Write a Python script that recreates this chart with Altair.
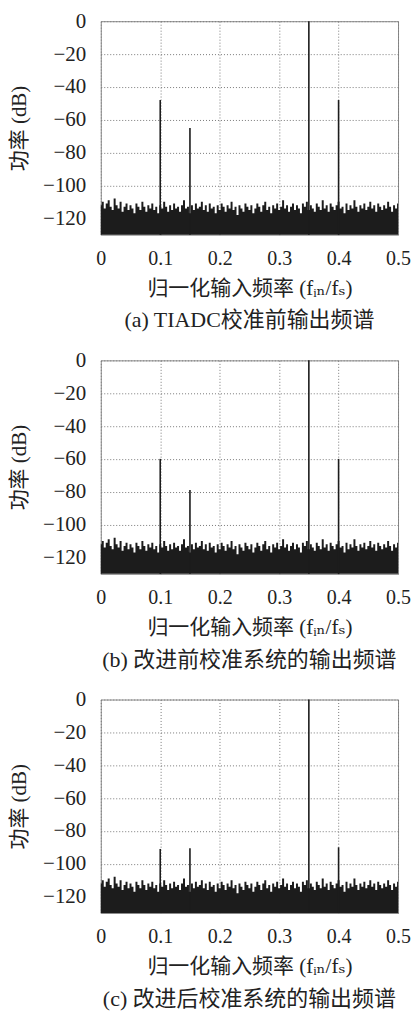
import altair as alt
import pandas as pd

# ---- data -------------------------------------------------------------
x_ticks = [0, 0.1, 0.2, 0.3, 0.4, 0.5]
y_ticks = [0, -20, -40, -60, -80, -100, -120]
floor_db = -130

# noise floor (top outline of the spectrum), shared by the three panels
noise_db = [
    -112, -110, -114, -111, -109, -113, -115, -108, -112, -114,
    -110, -116, -113, -111, -115, -112, -114, -117, -111, -113,
    -115, -110, -113, -116, -112, -114, -111, -115, -113, -117,
    -112, -114, -110, -113, -116, -112, -115, -111, -114, -113,
    -116, -112, -109, -114, -113, -117, -112, -115, -111, -114,
    -113, -110, -115, -112, -116, -111, -114, -113, -117, -112,
    -115, -111, -113, -116, -112, -114, -110, -115, -113, -118,
    -112, -114, -116, -111, -113, -115, -112, -117, -114, -111,
    -113, -116, -112, -110, -115, -113, -117, -112, -114, -111,
    -115, -113, -109, -114, -112, -116, -113, -111, -115, -112,
    -114, -117, -111, -113, -110, -115, -112, -114, -116, -111,
    -113, -115, -109, -114, -112, -116, -111, -113, -115, -112,
    -110, -114, -113, -117, -111, -115, -112, -114, -109, -113,
    -116, -112, -114, -111, -115, -113, -110, -114, -112, -116,
    -111, -113, -115, -112, -114, -110, -113, -116, -112, -114,
    -111,
]
noise_freq = [round(i * 0.5 / (len(noise_db) - 1), 5) for i in range(len(noise_db))]

spike_freq = [0.1, 0.15, 0.35, 0.4]
spike_a = [-48, -65, 0, -48]
spike_b = [-60, -79, 0, -60]
spike_c = [-91, -90.5, 0, -90]

captions = [
    "(a) TIADC校准前输出频谱",
    "(b) 改进前校准系统的输出频谱",
    "(c) 改进后校准系统的输出频谱",
]
x_title = "归一化输入频率 (fᵢₙ/fₛ)"
y_title = "功率 (dB)"

FONT = "Liberation Serif, DejaVu Serif, Noto Sans CJK SC"
INK = "#1c1c1c"

noise_df = pd.DataFrame({"f": noise_freq, "p": noise_db})


def encs():
    xenc = alt.X(
        "f:Q",
        scale=alt.Scale(domain=[0, 0.5], nice=False, zero=False),
        axis=alt.Axis(values=x_ticks, format="~g", title=x_title,
                      labelPadding=14, titlePadding=9, labelOverlap=False,
                      labelFontSize=20, titleFontSize=21),
    )
    yenc = alt.Y(
        "p:Q",
        scale=alt.Scale(domain=[floor_db, 0], nice=False, zero=False),
        axis=alt.Axis(values=y_ticks, title=y_title, labelOverlap=False,
                      labelFontSize=21, labelPadding=15, titlePadding=13,
                      titleFontSize=21),
    )
    return xenc, yenc


def panel(levels, caption):
    spikes_df = pd.DataFrame({"f": spike_freq, "p": levels})
    xa, ya = encs()
    xb, yb = encs()
    area = alt.Chart(noise_df).mark_area(
        interpolate="step", color=INK, opacity=1
    ).encode(x=xa, y=ya, y2=alt.datum(floor_db))
    spikes = alt.Chart(spikes_df).mark_rule(
        color=INK, strokeWidth=1.6
    ).encode(x=xb, y=yb, y2=alt.datum(floor_db))
    return alt.layer(area, spikes).properties(
        width=298,
        height=214,
        title=alt.TitleParams(caption, orient="bottom", anchor="middle",
                              offset=12, fontSize=22, font=FONT,
                              fontWeight="normal", color="#222"),
    )


chart = alt.vconcat(
    panel(spike_a, captions[0]),
    panel(spike_b, captions[1]),
    panel(spike_c, captions[2]),
    spacing=16,
).properties(
    padding={"top": 0, "left": 0, "right": 0, "bottom": 0}
).configure_view(
    stroke="#8a8a8a", strokeWidth=1
).configure_axis(
    domain=False,
    ticks=False,
    grid=True,
    gridColor="#7a7a7a",
    gridDash=[1, 2],
    gridWidth=1,
    labelFont=FONT,
    titleFont=FONT,
    labelColor="#222",
    titleColor="#222",
    titleFontWeight="normal",
).configure_axisX(
    labelFlush=False,
)

chart.save("out.html", embed_options={"renderer": "svg", "actions": False})
